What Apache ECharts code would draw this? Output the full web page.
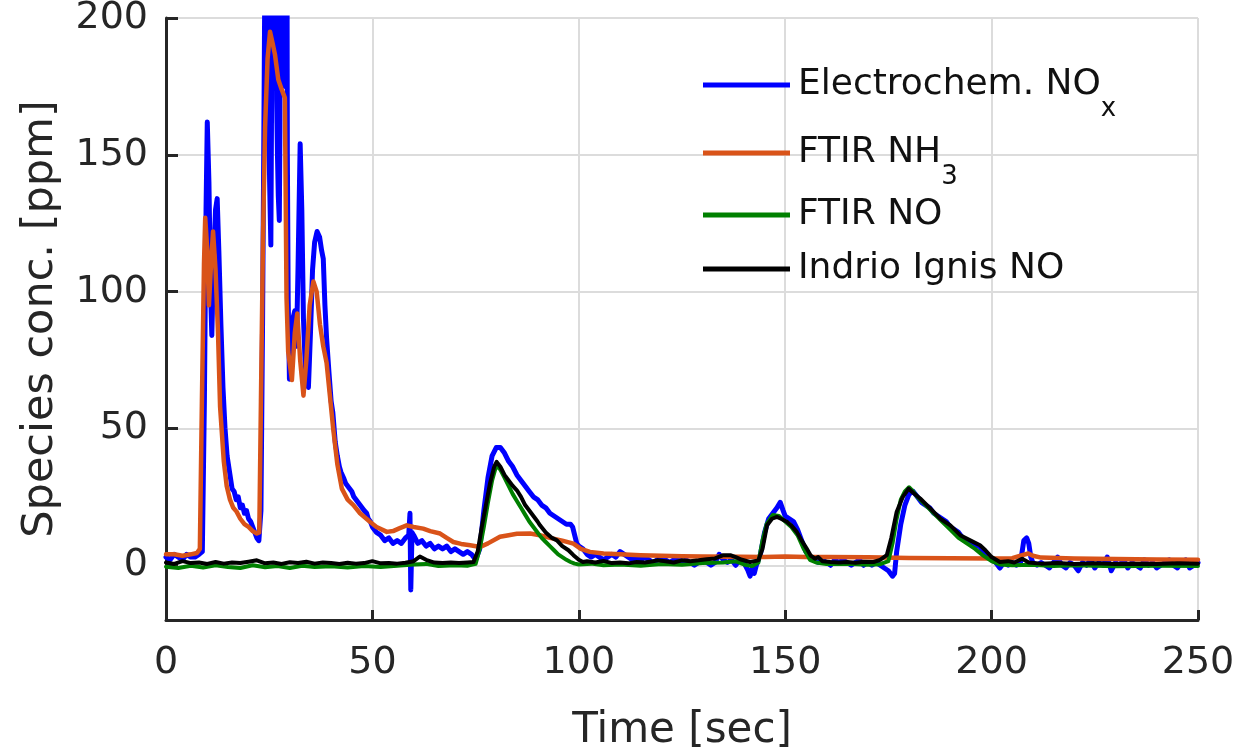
<!DOCTYPE html>
<html>
<head>
<meta charset="utf-8">
<script src="https://cdn.jsdelivr.net/npm/echarts@6/dist/echarts.min.js"></script>
<style>
html,body{margin:0;padding:0;background:#fff;}
#chart{width:1239px;height:752px;}
</style>
</head>
<body>
<div id="chart"></div>
<script>
// ---- Data (time [s], concentration [ppm]) ----
const seriesNames = ['Electrochem. NOx', 'FTIR NH3', 'FTIR NO', 'Indrio Ignis NO'];
const xTicks = [0, 50, 100, 150, 200, 250];
const yTicks = [0, 50, 100, 150, 200];

const noxElectrochem = [
[0,3],[1,2],[2,4],[3,3],[4,2],[5,4],[6,3],[7,3],[8,4],[8.8,5],[9.3,60],[9.7,130],[10,162],[10.4,140],[10.8,100],[11.1,84],[11.5,110],[12,130],[12.4,134],[12.8,115],[13.3,88],[13.8,65],[14.3,50],[14.8,40],[15.5,33],[16,28],[16.5,27],[17,24],[17.5,25],[18,21],[18.5,22],[19,19],[19.5,20],[20,17],[20.5,16],[21,14],[21.5,12],[22,10],[22.5,9],[23,20],[23.4,90],[23.8,180],
[24.0,230],[24.1,190],[24.2,250],[24.3,200],[24.4,245],[24.5,185],[24.6,240],[24.7,195],[24.8,250],[24.9,170],[25.1,140],[25.4,117],[25.55,160],[25.7,230],[25.8,180],[25.9,250],[26.0,190],[26.1,245],[26.2,175],[26.3,240],[26.4,185],[26.5,250],[26.6,180],[26.7,235],[26.8,170],[27.0,150],[27.2,135],[27.45,126],[27.6,160],[27.7,230],[27.8,180],[27.9,245],[28.0,175],[28.1,240],[28.2,185],[28.3,250],[28.4,178],[28.5,240],[28.6,182],[28.7,245],[28.8,175],[28.9,240],[29.0,190],[29.1,250],[29.2,180],[29.3,235],[29.4,150],[29.6,97],
[29.9,68],[30.3,80],[30.7,90],[31.2,93],[31.6,80],[32,110],[32.5,154],[32.9,130],[33.3,90],[33.8,70],[34.2,68],[34.5,65],[35,85],[35.5,108],[36,118],[36.6,122],[37.2,120],[37.7,115],[38.1,112],[38.5,95],[38.9,83],[39.5,70],[40,60],[40.4,56],[41,45],[41.5,40],[42,36],[42.4,34],[43,32],[43.5,30],[44,29],[44.5,28],[45,27],[45.5,25],[46,24],[46.5,23],[47,22],[47.5,21],[48,20],[48.6,19],[49,17],[49.5,16],[50,14],[51,12],[52,11],[53,9],[54,10],[55,8],[56,9],[57,8],[58,10],[58.8,11],[59.1,19],[59.3,-9],[59.6,12],[60,11],[61,8],[62,9],[63,7],[64,8],[65,6],[66,7],[67,6],[68,7],[69,5],[70,6],[71,5],[72,4],[73,5],[74,4],[75,2],[76,6],[77,20],[78,32],[79,40],[80,43],[81,43],[82,41],[83,38],[84,36],[85,33],[86,31],[87,29],[88,27],[89,25],[90,24],[91,22],[92,21],[93,19],[94,18],[95,17],[96,16],[97,15],[98,15],[98.5,14],[99,11],[99.5,8],[100,7],[101,6],[102,4],[103,3],[104,4],[105,3],[106,2],[107,3],[108,4],[109,3],[110,5],[111,4],[112,3],[113,2],[114,3],[115,2],[116,3],[117,2],[118,1],[119,2],[120,3],[121,2],[122,1],[123,2],[124,3],[125,1],[126,2],[127,1],[128,0],[129,1],[130,2],[131,1],[132,0],[133,1],[134,4],[135,2],[136,1],[137,2],[138,0],[139,2],[140,1],[141,-2],[141.5,-4],[142,-1],[142.5,-3],[143,0],[144,4],[145,12],[146,17],[147,19],[148,21],[148.8,23],[149.5,20],[150,18],[151,17],[152,16],[153,13],[154,9],[155,5],[156,3],[157,2],[158,1],[159,2],[160,1],[161,0],[162,2],[163,1],[164,2],[165,1],[166,0],[167,1],[168,2],[169,0],[170,1],[171,0],[172,1],[173,0],[174,-1],[175,-2],[176,-4],[176.5,-3],[177,5],[178,15],[179,22],[180,26],[181,27],[182,25],[183,23],[184,22],[185,21],[186,19],[187,18],[188,17],[189,16],[190,14],[191,13],[192,12],[193,10],[194,9],[195,8],[196,7],[197,7],[198,5],[199,4],[200,2],[201,1],[202,-1],[203,1],[204,0],[205,1],[206,0],[207,1],[207.8,9],[208.5,10],[209,8],[209.5,3],[210,1],[211,0],[212,1],[213,0],[214,-1],[215,1],[216,3],[217,0],[218,-1],[219,1],[220,0],[221,-2],[222,1],[223,0],[224,2],[225,-1],[226,1],[227,0],[228,3],[229,-2],[230,1],[231,0],[232,2],[233,-1],[234,1],[235,0],[236,-1],[237,2],[238,0],[239,1],[240,-1],[241,0],[242,1],[243,2],[244,0],[245,-1],[246,1],[247,2],[248,-1],[249,0],[250,1]
];

const nh3Ftir = [
[0,4],[2,4],[4,3.5],[6,4],[7.5,4.5],[8.2,6],[8.7,60],[9.2,110],[9.5,127],[10,115],[10.4,95],[10.9,110],[11.4,122],[12,108],[12.6,85],[13.1,58],[14,38],[14.7,29],[15.5,24],[16.3,21],[17.1,19.6],[18,17],[19,15],[20,14],[21,12.5],[22,11.6],[22.6,12],[23,60],[23.5,120],[24,160],[24.6,185],[25.2,195],[25.8,191],[26.4,186.6],[27.2,177.5],[28,174],[28.8,170.8],[29.2,97.6],[29.6,78],[30.5,67.7],[31.2,85],[31.8,92],[32.5,75],[33.3,62],[34,75],[34.8,95],[35.7,103.7],[36.5,100],[37.3,88],[38.1,80],[38.9,74],[39.7,62],[40.5,50],[41.5,37],[42.6,28],[44,24],[45.4,22],[47,19],[49.4,15.9],[51,14],[53.5,12.2],[55,12.5],[56.5,13.5],[58.3,14.6],[60,14],[62.3,13.4],[64,12.5],[66.4,11.6],[68,10],[69.6,8.5],[71.5,7.8],[73.7,7.3],[76.1,6.7],[78,8],[80.9,10.4],[83,11],[85,11.5],[88.2,11.6],[90.6,11],[93,10],[96,9],[98.7,7.9],[100.5,6],[102.7,4.9],[106,4.3],[110,4],[114.9,3.7],[120,3.5],[125,3.3],[130,3.2],[139,3.1],[145,3],[150,3.2],[155,3],[160,3],[170,2.9],[180,2.7],[190,2.6],[200,2.5],[205,2.6],[207,3.5],[208.9,4.3],[210,3.5],[212,2.8],[220,2.5],[230,2.3],[240,2.1],[250,2]
];

const noFtir = [
[0,-0.5],[3,-1],[6,-0.2],[9,-0.8],[12,0],[15,-0.6],[18,-1],[21,0],[24,-0.7],[27,-0.3],[30,-1],[33,-0.2],[36,-0.6],[40,-0.4],[44,-0.8],[48,-0.3],[52,-0.6],[56,-0.2],[60,0.3],[63,0.5],[66,-0.3],[70,0],[73,-0.2],[75,0.5],[76,6],[77,14],[78,23],[79,31],[80,36.5],[81,35],[82,32],[83,29],[84,26],[85,23.5],[86,21],[87,18.5],[88,16],[89,14],[90,12],[91,10],[92,8.5],[93,7],[94,5.5],[95,4],[96,3],[97,2],[98,1.2],[99,0.6],[100,0.3],[103,0.6],[106,0],[110,0.3],[115,-0.2],[120,0.5],[125,0.2],[130,0.8],[135,1],[138,1.5],[140,0.3],[142,-0.3],[143.5,1],[144.5,9],[145.5,15],[147,18.4],[148.5,18],[150,16],[151.5,14],[153,11],[154.5,6],[156,2],[157.5,1],[160,0.5],[165,0.6],[170,0.2],[173,0.4],[175,1.5],[176,8],[177,17],[178,24],[179,27],[180,28.5],[181,27],[182,25],[184,22],[186,19],[188,16],[190,13],[192,10],[194,8],[196,6],[198,3.5],[200,1.5],[202,0.3],[205,0],[210,0.2],[215,-0.3],[220,0],[225,-0.2],[230,-0.4],[240,-0.2],[250,-0.3]
];

const noIndrio = [
[0,1],[2,0.5],[4,1.5],[6,0.8],[8,1],[10,0.5],[12,1.2],[14,0.6],[16,1],[18,0.8],[20,1.3],[22,1.8],[24,0.7],[26,1],[28,0.5],[30,1.1],[32,0.8],[34,1.3],[36,0.6],[38,1],[40,0.8],[42,0.5],[44,0.9],[46,0.6],[48,0.8],[50,1.5],[52,0.7],[54,0.8],[56,0.6],[58,0.9],[60,1.5],[61.5,3.2],[63,2],[65,1],[67,0.8],[69,1],[71,0.8],[73,1],[74.5,1.2],[75.5,5],[76.5,14],[77.5,22],[78.5,30],[79.5,36],[80.1,37.8],[81,36],[82,33],[83,31],[84,29],[85,27.4],[86,25],[87,22],[88,20],[89,18],[90,16],[90.6,14.6],[92,12],[93.5,10],[94.7,9.1],[96,7],[97.5,5.5],[98.7,3.7],[100,2],[101,1.2],[102,1.5],[104,1],[106,1.6],[108,0.8],[110,1],[112,0.7],[114,1.2],[116,1],[118,1.5],[119,1.8],[121,1.5],[123,1],[125,1.8],[127,1.5],[129,1.8],[131,2.2],[133,2.5],[135,3.7],[136.7,3.7],[138,3],[139.5,2],[141.5,1.2],[143.5,1.8],[144.5,6],[145.6,14.6],[146.8,17],[148,17.7],[149,17],[150.4,15.9],[151.5,14.5],[152.8,12.2],[154,9],[155.2,6.1],[156.2,3.5],[157.2,2.4],[158,3],[159,1.5],[161,1.2],[163,1],[165,1.2],[167,0.9],[169,1.3],[171.4,1.2],[173,2],[174.6,3.7],[175.7,10],[177,19.5],[178.5,25],[179.9,28],[181,26.5],[182.7,24.4],[185,21],[187.5,17.1],[190,14.6],[192.4,11],[194.8,9.1],[197.2,7.3],[198.5,5.5],[200,3],[202,1.2],[204,1.5],[205.5,1],[207.4,2.4],[209,1],[212,0.6],[216,0.8],[220,0.5],[225,0.7],[230,0.5],[235,0.6],[240,0.5],[245,0.7],[250,0.6]
];

const seriesColors = ['#0000ff', '#d95319', '#008000', '#000000'];

// ---- Chart ----
const FONT = 'DejaVu Sans';
const AXIS_COLOR = '#262626';
const chart = echarts.init(document.getElementById('chart'), null, {renderer: 'canvas'});

function legendFor(idx, top, tall) {
  return {
    show: true,
    data: [seriesNames[idx]],
    left: 703,
    top: top,
    icon: 'rect',
    itemWidth: 87,
    itemHeight: 5,
    padding: 0,
    selectedMode: false,
    formatter: function (name) {
      if (name === 'Electrochem. NOx') return '{m|Electrochem. NO}{s|x}';
      if (name === 'FTIR NH3') return '{m|FTIR NH}{s|3}';
      return '{m|' + name + '}';
    },
    textStyle: {
      fontFamily: FONT, fontSize: 36, color: '#111',
      rich: {
        m: {fontFamily: FONT, fontSize: 36, color: '#111', padding: [0, 0, 0, 3], lineHeight: tall ? 74 : 40},
        s: {fontFamily: FONT, fontSize: 26, color: '#111', verticalAlign: 'bottom', lineHeight: 74}
      }
    }
  };
}

const option = {
  animation: false,
  backgroundColor: '#ffffff',
  grid: {left: 166, right: 41, top: 18, bottom: 132, containLabel: false, outerBoundsMode: 'none'},
  legend: [
    legendFor(0, 82 - 15, true),
    legendFor(1, 151 - 16, true),
    legendFor(2, 213 - 16, false),
    legendFor(3, 267 - 16, false)
  ],
  xAxis: {
    type: 'value',
    min: 0, max: 250, interval: 50,
    name: 'Time [sec]',
    nameLocation: 'middle',
    nameGap: 90,
    nameTextStyle: {fontFamily: FONT, fontSize: 42, color: AXIS_COLOR},
    axisLine: {show: true, onZero: false, lineStyle: {color: AXIS_COLOR, width: 3}},
    axisTick: {show: true, inside: true, length: 10, lineStyle: {color: AXIS_COLOR, width: 3}},
    axisLabel: {fontFamily: FONT, fontSize: 38, color: AXIS_COLOR, margin: 24},
    splitLine: {show: true, lineStyle: {color: '#dcdcdc', width: 2}}
  },
  yAxis: {
    type: 'value',
    min: -20, max: 200,
    name: 'Species conc. [ppm]',
    nameLocation: 'middle',
    nameGap: 104,
    nameTextStyle: {fontFamily: FONT, fontSize: 43, color: AXIS_COLOR},
    axisLine: {show: true, onZero: false, lineStyle: {color: AXIS_COLOR, width: 3}},
    axisTick: {show: true, inside: true, length: 12, customValues: yTicks, lineStyle: {color: AXIS_COLOR, width: 3}},
    axisLabel: {fontFamily: FONT, fontSize: 38, color: AXIS_COLOR, margin: 18, customValues: yTicks},
    splitLine: {show: true, lineStyle: {color: '#dcdcdc', width: 2}}
  },
  series: [
    {name: seriesNames[0], type: 'line', data: noxElectrochem, color: seriesColors[0], showSymbol: false, symbol: 'none', z: 2,
     lineStyle: {width: 5, color: seriesColors[0], cap: 'round', join: 'round'}},
    {name: seriesNames[1], type: 'line', data: nh3Ftir, color: seriesColors[1], showSymbol: false, symbol: 'none', z: 3,
     lineStyle: {width: 4.5, color: seriesColors[1], cap: 'round', join: 'round'}},
    {name: seriesNames[2], type: 'line', data: noFtir, color: seriesColors[2], showSymbol: false, symbol: 'none', z: 4,
     lineStyle: {width: 4, color: seriesColors[2], cap: 'round', join: 'round'}},
    {name: seriesNames[3], type: 'line', data: noIndrio, color: seriesColors[3], showSymbol: false, symbol: 'none', z: 5,
     lineStyle: {width: 4, color: seriesColors[3], cap: 'round', join: 'round'}}
  ]
};
chart.setOption(option);
</script>
</body>
</html>
